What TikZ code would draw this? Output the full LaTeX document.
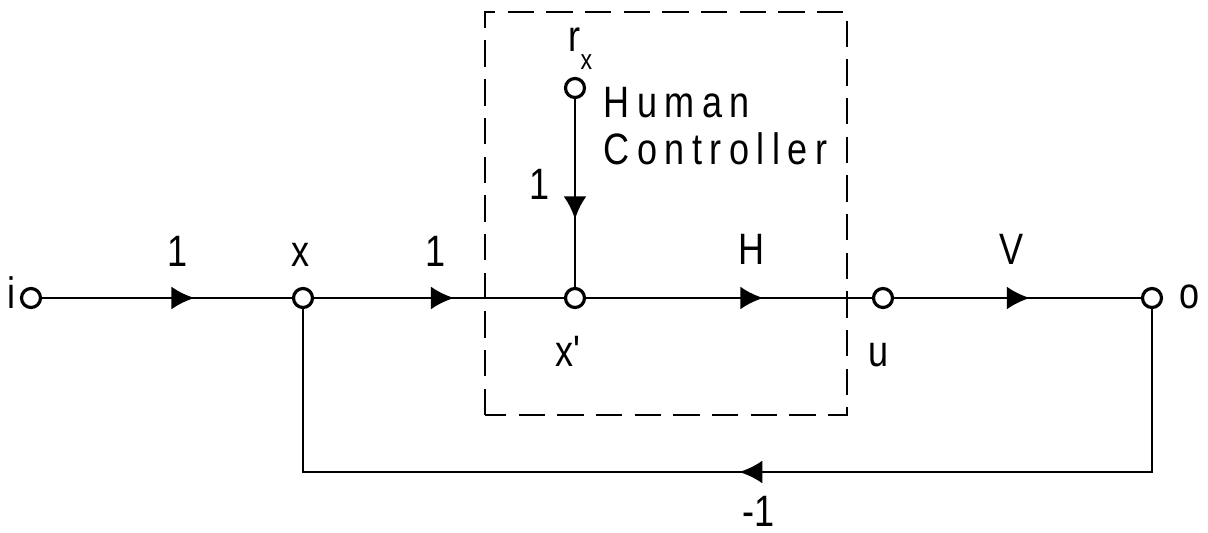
\documentclass[tikz,border=0pt]{standalone}
\usepackage{fontspec}
\setmainfont{Liberation Sans}[FakeStretch=0.82]
\newfontfamily\spaced{Liberation Sans}[FakeStretch=0.82,LetterSpace=17]
\usetikzlibrary{arrows.meta,calc,positioning,decorations.markings}
\tikzset{vertex/.style={circle,draw,line width=.9pt,fill=white,minimum size=.19cm,inner sep=0pt},wire/.style={line width=.85pt},midarrow/.style={postaction={decorate},decoration={markings,mark=at position #1 with {\arrow{Latex[length=2.3mm,width=2.3mm]}}}},midarrow/.default=.6,lbl/.style={font=\fontsize{12.5}{14}\selectfont,inner sep=0pt,anchor=base},frame/.style={line width=.7pt,dash pattern=on 7.5pt off 3.5pt}}

\begin{document}
\begin{tikzpicture}[x=.01cm,y=.01cm]
      \useasboundingbox (0,0) rectangle (1208,533);
      \node[vertex](i) at (31,235){};
      \node[vertex](x) at (303,235){};
      \node[vertex](xp) at (575,235){};
      \node[vertex](u) at (883,235){};
      \node[vertex](o) at (1152,235){};
      \node[vertex](r) at (575,445){};
      \coordinate (fbr) at (1152,61);\coordinate (fbl) at (303,61);
      \draw[frame] (485,118) rectangle (847,521);
      \draw[wire,midarrow=.61](i)--(x);\draw[wire,midarrow=.56](x)--(xp);
      \draw[wire,midarrow=.62](xp)--(u);\draw[wire,midarrow=.55](u)--(o);
      \draw[wire,midarrow=.64](r)--(xp);
      \draw[wire,midarrow=.49](o)--(fbr)--(fbl)--(x);
      % node labels
      \node[lbl] at (12,224){i};
      \node[lbl] at (1190,224){o};
      \node[lbl] at (301,266){x};
      \node[lbl] at (569,166){x\textquotesingle};
      \node[lbl] at (879,166){u};
      \node[lbl,anchor=base west] at (568,481){r\raisebox{-5pt}{\fontsize{8}{9}\selectfont x}};
      % gains
      \node[lbl] at (178,266){1};
      \node[lbl] at (436,266){1};
      \node[lbl] at (752,268){H};
      \node[lbl] at (1012,268){V};
      \node[lbl] at (540,333){1};
      \node[lbl] at (759,6){-1};
      \node[lbl,anchor=base west,font=\fontsize{12.5}{14}\spaced](hum) at (603,415){Human};
      \node[lbl,anchor=base west,font=\fontsize{12.5}{14}\spaced](ctl) at (603,368){Controller};
    \end{tikzpicture}
\end{document}
